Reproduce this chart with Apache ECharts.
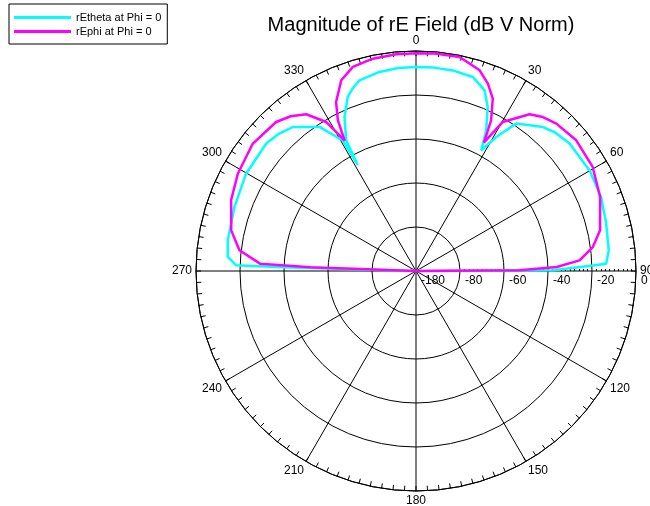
<!DOCTYPE html>
<html>
<head>
<meta charset="utf-8">
<script src="https://cdn.jsdelivr.net/npm/echarts@6/dist/echarts.min.js"></script>
<style>
html, body { margin: 0; padding: 0; background: #fff; }
#chart { width: 650px; height: 506px; }
</style>
</head>
<body>
<div id="chart"></div>
<script>
// angles in degrees from the top, clockwise (negative = left side)
var thetaAngles = [-90, -88.4, -88.2, -85.7, -80.7, -70.6, -60.2, -49.6, -45, -40.5, -33.8, -29.3, -28.8, -28.1, -24.9, -21.4, -19, -16.5, -10.4, -5, 0, 5, 10.4, 16.3, 20.8, 23.6, 26.5, 28.4, 30.9, 34.2, 41.4, 45, 50.3, 59.9, 68.2, 76, 83.9, 87.8, 88.2, 89.7, 90];
var thetaValues = [-100, -36.4, -18.2, -14.2, -13.3, -12.5, -11, -10.6, -11.8, -13.9, -21.2, -32, -45, -32.6, -22.8, -15, -12, -9.6, -8, -7.4, -7.3, -7.2, -7.3, -8.1, -12.2, -18.6, -28.5, -37.6, -29, -19, -12.8, -10.8, -9.3, -8.8, -9.4, -10.9, -11.9, -13.5, -19.6, -37.8, -100];

var phiAngles = [-90, -88, -87.3, -83.3, -77.6, -69, -61.3, -52, -43.2, -39, -35, -31.1, -28.7, -27.4, -25.3, -21.4, -17.2, -11.5, -5.2, 0, 5, 11.5, 17.6, 21, 24, 26.5, 27.9, 30.2, 35.9, 39.5, 43.6, 50.8, 59.5, 68.1, 77.5, 82.3, 86.3, 88.4, 89.6, 90];
var phiValues = [-100, -52, -29, -19.2, -14, -10, -7.7, -5.9, -7.1, -9.5, -13, -20.9, -32.5, -22.8, -15, -6.9, -2.9, -1.5, -1.1, -1, -0.8, -0.7, -4.3, -8.8, -14.2, -23.5, -34, -21.6, -12, -9.3, -7.5, -6, -6.8, -9.8, -14.3, -18.9, -25.5, -36, -53, -100];

var radiusTicks = [-100, -80, -60, -40, -20, 0];
var radiusTickLabels = ['-180', '-80', '-60', '-40', '-20', '0'];

function toPolar(angles, values) {
	return angles.map(function(a, i) {
		return [values[i], a < 0 ? a + 360 : a];
	});
}

var font = 'Liberation Sans';
var chart = echarts.init(document.getElementById('chart'));
chart.setOption({
	animation: false,
	title: {
		text: 'Magnitude of rE Field (dB V Norm)',
		left: 416,
		textAlign: 'center',
		top: 10,
		textStyle: { fontFamily: font, fontSize: 20, fontWeight: 'normal', color: '#000' }
	},
	legend: {
		left: 9,
		top: 4,
		orient: 'vertical',
		borderColor: '#000',
		borderWidth: 1,
		padding: [8, 6, 7, 5],
		itemWidth: 57,
		itemHeight: 3,
		itemGap: 3,
		icon: 'rect',
		textStyle: { fontFamily: font, fontSize: 11, color: '#000' },
		data: ['rEtheta at Phi = 0', 'rEphi at Phi = 0']
	},
	polar: [
		{ center: [416, 271], radius: 220 },
		{ center: [416, 271], radius: [0, 220] },
		{ center: [416, 271], radius: [44, 220] }
	],
	angleAxis: [
		{
			polarIndex: 0,
			type: 'value',
			min: 0,
			max: 360,
			interval: 30,
			startAngle: 90,
			clockwise: true,
			axisLine: { lineStyle: { color: '#000', width: 1 } },
			axisTick: { show: true, inside: true, length: 5, lineStyle: { color: '#000' } },
			minorTick: { show: true, splitNumber: 10, length: 5, lineStyle: { color: '#000' } },
			splitLine: { show: true, lineStyle: { color: '#000', width: 1 } },
			axisLabel: { fontFamily: font, fontSize: 12, color: '#000', margin: 4 }
		},
		{ polarIndex: 1, type: 'value', min: 0, max: 360, startAngle: 0, show: false },
		{ polarIndex: 2, type: 'value', min: 0, max: 360, startAngle: 0, show: false }
	],
	radiusAxis: [
		{
			polarIndex: 0,
			type: 'value',
			min: -100,
			max: 0,
			interval: 20,
			axisLine: { show: false },
			axisTick: { show: false },
			axisLabel: { show: false },
			splitLine: { show: true, lineStyle: { color: '#000', width: 1 } }
		},
		{
			polarIndex: 1,
			type: 'value',
			min: -100,
			max: 0,
			interval: 20,
			axisLine: { show: false },
			axisTick: { show: false },
			splitLine: { show: false },
			axisLabel: {
				fontFamily: font,
				fontSize: 12,
				color: '#000',
				margin: -4,
				verticalAlign: 'top',
				align: 'left',
				padding: [0, 0, 0, 5],
				formatter: function(v) {
					var i = radiusTicks.indexOf(v);
					return i >= 0 ? radiusTickLabels[i] : '';
				}
			}
		},
		{
			polarIndex: 2,
			type: 'value',
			min: -80,
			max: 0,
			interval: 20,
			axisLine: { show: false },
			axisTick: { show: false },
			axisLabel: { show: false },
			splitLine: { show: false },
			minorTick: { show: true, splitNumber: 10, length: 2, lineStyle: { color: '#000' } }
		}
	],
	series: [
		{
			name: 'rEtheta at Phi = 0',
			type: 'line',
			coordinateSystem: 'polar',
			polarIndex: 0,
			symbol: 'none',
			lineStyle: { color: '#00FFFF', width: 2.5 },
			itemStyle: { color: '#00FFFF' },
			data: toPolar(thetaAngles, thetaValues)
		},
		{
			name: 'rEphi at Phi = 0',
			type: 'line',
			coordinateSystem: 'polar',
			polarIndex: 0,
			symbol: 'none',
			lineStyle: { color: '#FF00FF', width: 2.5 },
			itemStyle: { color: '#FF00FF' },
			data: toPolar(phiAngles, phiValues)
		}
	]
});
</script>
</body>
</html>
